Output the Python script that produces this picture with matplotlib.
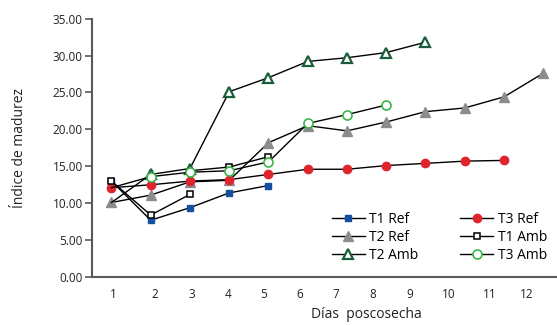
import matplotlib.pyplot as plt
import numpy as np

plt.rcParams['font.family'] = ['Open Sans', 'DejaVu Sans']

# days after harvest (data positions) and maturity index per treatment
days = [1, 2, 3, 4, 5, 6, 7, 8, 9, 10, 11, 12]
t1_ref = [13.0, 7.7, 9.4, 11.4, 12.4]
t2_ref = [10.1, 11.1, 12.9, 13.1, 18.2, 20.5, 19.8, 21.0, 22.4, 22.9, 24.4, 27.6]
t2_amb = [10.1, 13.9, 14.7, 25.1, 27.0, 29.2, 29.7, 30.4, 31.8]
t3_ref = [12.1, 12.5, 13.0, 13.2, 13.9, 14.6, 14.6, 15.1, 15.4, 15.7, 15.8]
t1_amb_a = [13.0, 8.4, 11.2]          # days 1-3
t1_amb_b = [14.4, 14.9, 16.3]         # second segment, days 3-5
t3_amb = [12.1, 13.6, 14.2, 14.4, 15.6, 20.8, 22.0, 23.3]

tick_labels = ['1', '2', '3', '4', '5', '6', '7', '8', '9', '10', '11', '12']
yticks = [0, 5, 10, 15, 20, 25, 30, 35]

# where the x labels sit (they are not aligned with the points in the original)
tick_pos = [1.06, 2.11, 3.04, 3.96, 4.87, 5.80, 6.72, 7.65, 8.59, 9.58, 10.63, 11.58]

fig = plt.figure(figsize=(5.57, 3.26), dpi=100)
ax = fig.add_axes([0.166, 0.150, 0.834, 0.793])

lw = 1.0
ax.plot(days[:len(t1_ref)], t1_ref, color='black', lw=lw, marker='s', ms=5,
        mfc='#1450a0', mec='#1450a0', label='T1 Ref')
ax.plot(days[:len(t2_ref)], t2_ref, color='black', lw=lw, marker='^', ms=7,
        mfc='#8c8c8c', mec='#8c8c8c', label='T2 Ref')
# day-1 markers of the Amb series are hidden in the original
ax.plot(days[:len(t2_amb)], t2_amb, color='black', lw=lw, marker='^', ms=6.5,
        mfc='white', mec='#1b5e3b', mew=1.6, label='T2 Amb',
        markevery=list(range(1, len(t2_amb))))
ax.plot(days[:len(t3_ref)], t3_ref, color='black', lw=lw, marker='o', ms=6,
        mfc='#e0242e', mec='#e0242e', label='T3 Ref')
ax.plot(days[:3], t1_amb_a, color='black', lw=lw, marker='s', ms=4.5,
        mfc='white', mec='black', mew=1.1, label='T1 Amb')
ax.plot(days[2:5], t1_amb_b, color='black', lw=lw, marker='s', ms=4.5,
        mfc='white', mec='black', mew=1.1, markevery=[1, 2])
ax.plot(days[:len(t3_amb)], t3_amb, color='black', lw=lw, marker='o', ms=6.5,
        mfc='white', mec='#3cb44a', mew=1.2, label='T3 Amb',
        markevery=list(range(1, len(t3_amb))))

ax.set_xlim(0.516, 12.35)
ax.set_ylim(0, 35)
ax.set_yticks(yticks)
ax.set_yticklabels([f'{v:.2f}' for v in yticks], fontsize=8.5, color='#222222')
ax.set_xticks(tick_pos)
ax.set_xticklabels(tick_labels, fontsize=8.5, color='#222222')
ax.tick_params(axis='x', length=0, pad=8)
ax.tick_params(axis='y', length=5, width=1.2, color='#595959', pad=2)

for s in ['top', 'right']:
    ax.spines[s].set_visible(False)
for s in ['left', 'bottom']:
    ax.spines[s].set_color('#595959')
    ax.spines[s].set_linewidth(1.5)

ax.set_ylabel('Índice de madurez', fontsize=10, color='#222222')
ax.yaxis.set_label_coords(-0.14, 0.5)
ax.set_xlabel('Días  poscosecha', fontsize=10, color='#222222')
ax.xaxis.set_label_coords(0.59, -0.115)

ax.legend(ncol=2, loc='upper left', bbox_to_anchor=(0.583, 0.37),
          bbox_transform=fig.transFigure, frameon=False, fontsize=10,
          handlelength=2.4, handletextpad=0.3, columnspacing=3.0,
          labelspacing=0.2, borderpad=0)

fig.savefig('out.png', dpi=100)
